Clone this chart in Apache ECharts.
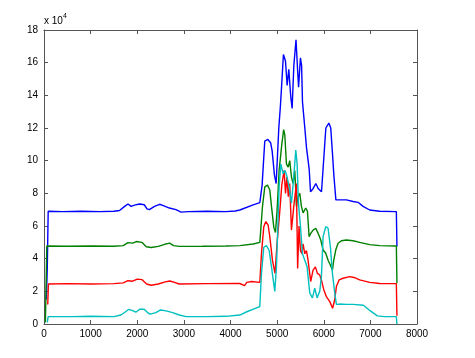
<!DOCTYPE html>
<html>
<head>
<meta charset="utf-8">
<script src="https://cdn.jsdelivr.net/npm/echarts@6/dist/echarts.min.js"></script>
<style>
html,body{margin:0;padding:0;background:#fff;}
#chart{width:475px;height:358px;}
</style>
</head>
<body>
<div id="chart"></div>
<script>
// x ticks and y ticks (values in units of 10^4)
const xTicks = [0,1000,2000,3000,4000,5000,6000,7000,8000];
const yTicks = [0,2,4,6,8,10,12,14,16,18];
const seriesNames = ['blue','green','red','cyan'];
const seriesColors = ['#0000ff','#008000','#ff0000','#00bfbf'];

const blueData = [
[50,1.5],[70,3.4],[90,6.9],[400,6.88],[800,6.9],[1200,6.88],[1500,6.9],[1620,6.95],[1730,7.2],[1800,7.35],[1870,7.2],[1940,7.28],[2050,7.35],[2150,7.3],[2210,7.05],[2260,7.0],[2370,7.2],[2480,7.33],[2560,7.25],[2690,7.1],[2830,7.0],[2940,6.85],[3100,6.88],[3500,6.9],[3900,6.88],[4100,6.92],[4200,6.98],[4486,7.29],[4629,7.43],[4678,8.5],[4735,11.2],[4800,11.3],[4860,11.1],[4893,10.6],[4943,9.1],[4979,8.6],[5036,12.0],[5072,13.4],[5107,15.1],[5135,16.5],[5179,16.1],[5215,14.6],[5250,15.6],[5293,13.9],[5322,13.2],[5358,15.8],[5405,17.4],[5440,15.5],[5460,14.5],[5500,16.3],[5525,15.8],[5544,13.6],[5594,12.0],[5630,10.8],[5687,9.5],[5716,8.1],[5773,8.3],[5830,8.6],[5880,8.3],[5952,8.1],[5988,9.6],[6045,12.0],[6110,12.3],[6150,12.0],[6188,10.4],[6217,9.1],[6260,7.6],[6343,7.6],[6486,7.6],[6629,7.5],[6736,7.45],[6843,7.2],[6986,6.98],[7200,6.9],[7557,6.88],[7570,4.75]
];

const greenData = [
[30,0.1],[60,4.78],[500,4.76],[1000,4.78],[1500,4.76],[1700,4.8],[1800,4.98],[1900,4.95],[1980,5.05],[2100,5.0],[2193,4.73],[2300,4.68],[2450,4.75],[2590,4.88],[2693,4.95],[2780,4.8],[2900,4.75],[3400,4.76],[3900,4.78],[4200,4.8],[4486,4.9],[4629,5.0],[4686,7.2],[4736,8.4],[4793,8.5],[4843,8.2],[4879,7.2],[4930,5.9],[4965,5.6],[5000,7.0],[5043,9.4],[5100,11.0],[5140,11.9],[5164,11.6],[5200,9.8],[5236,9.6],[5271,10.0],[5307,9.0],[5343,8.6],[5379,9.4],[5414,7.2],[5450,7.8],[5486,8.0],[5521,7.2],[5557,6.8],[5614,7.1],[5650,6.9],[5686,5.35],[5721,5.55],[5771,5.75],[5829,5.86],[5879,5.55],[5936,5.14],[5986,4.53],[6043,4.33],[6093,3.9],[6143,3.6],[6186,3.3],[6214,3.9],[6257,4.53],[6307,4.94],[6379,5.1],[6486,5.14],[6629,5.1],[6771,5.0],[6986,4.86],[7200,4.8],[7557,4.78],[7570,2.5]
];

const redData = [
[80,1.2],[95,2.45],[500,2.47],[1000,2.45],[1500,2.47],[1700,2.52],[1800,2.65],[1900,2.62],[2000,2.75],[2100,2.72],[2200,2.45],[2300,2.37],[2450,2.45],[2600,2.58],[2700,2.63],[2800,2.55],[2900,2.45],[3500,2.47],[4200,2.48],[4300,2.35],[4350,2.55],[4450,2.6],[4629,2.55],[4664,4.3],[4714,5.96],[4757,6.27],[4807,6.06],[4843,5.35],[4900,3.9],[4955,3.1],[5000,5.0],[5060,7.0],[5100,8.5],[5150,9.4],[5180,8.0],[5210,9.0],[5240,7.8],[5270,8.6],[5307,5.75],[5357,7.2],[5414,8.6],[5440,3.4],[5470,6.0],[5500,4.5],[5530,4.3],[5557,4.9],[5593,4.3],[5629,4.5],[5664,3.9],[5720,2.6],[5771,3.3],[5821,3.5],[5864,3.1],[5914,3.0],[5950,2.7],[6000,2.1],[6057,1.67],[6129,1.37],[6190,0.96],[6236,1.5],[6271,2.29],[6329,2.7],[6414,2.8],[6557,2.9],[6650,2.85],[6771,2.7],[6986,2.55],[7200,2.48],[7557,2.47],[7570,0.5]
];

const cyanData = [
[70,0.1],[90,0.45],[600,0.45],[1000,0.47],[1500,0.45],[1650,0.55],[1750,0.75],[1820,0.9],[1900,0.82],[1970,0.72],[2050,0.9],[2150,0.9],[2220,0.7],[2280,0.6],[2400,0.7],[2500,0.86],[2620,0.8],[2760,0.7],[2900,0.55],[3050,0.45],[3500,0.45],[3900,0.47],[4200,0.55],[4350,0.75],[4480,0.9],[4628,1.06],[4664,3.1],[4714,4.7],[4771,4.8],[4829,4.5],[4879,3.5],[4950,2.0],[4986,3.5],[5020,6.4],[5043,8.4],[5079,9.8],[5129,9.2],[5171,9.4],[5214,9.0],[5257,8.4],[5307,7.4],[5357,9.0],[5400,10.65],[5429,9.8],[5457,7.4],[5500,6.0],[5543,4.3],[5593,3.9],[5643,3.5],[5700,1.9],[5757,1.6],[5807,2.2],[5857,1.6],[5914,2.0],[5950,2.9],[5986,5.35],[6043,5.96],[6093,5.86],[6143,4.7],[6186,3.1],[6236,1.9],[6271,1.2],[6343,1.22],[6486,1.2],[6629,1.2],[6850,1.15],[7000,0.8],[7150,0.5],[7300,0.45],[7557,0.45],[7570,0]
];

const allData = [blueData, greenData, redData, cyanData];

const chart = echarts.init(document.getElementById('chart'), null, {renderer:'canvas'});
const axisColor = '#555';
const labelStyle = {fontSize:10, color:'#000', fontFamily:'Liberation Sans, Arial, sans-serif'};

function xAx(pos, showLabel){
  return {
    type:'value', position:pos, min:xTicks[0], max:xTicks[xTicks.length-1], interval:1000,
    axisLine:{show:true, onZero:false, lineStyle:{color:axisColor, width:1}},
    axisTick:{show:true, inside:true, length:4, lineStyle:{color:axisColor}},
    axisLabel:Object.assign({show:showLabel, margin:5, formatter:v=>String(v)}, labelStyle),
    splitLine:{show:false}
  };
}
function yAx(pos, showLabel){
  return {
    type:'value', position:pos, min:yTicks[0], max:yTicks[yTicks.length-1], interval:2,
    axisLine:{show:true, onZero:false, lineStyle:{color:axisColor, width:1}},
    axisTick:{show:true, inside:true, length:4, lineStyle:{color:axisColor}},
    axisLabel:Object.assign({show:showLabel, margin:6, formatter:v=>String(v)}, labelStyle),
    splitLine:{show:false}
  };
}

chart.setOption({
  animation:false,
  backgroundColor:'#fff',
  grid:{left:44, right:58, top:30, bottom:34, containLabel:false},
  xAxis:[xAx('bottom', true), xAx('top', false)],
  yAxis:[yAx('left', true), yAx('right', false)],
  graphic:[
    {type:'text', left:44, top:16, style:{text:'x 10', fontSize:10, fill:'#000', fontFamily:'Liberation Sans, Arial, sans-serif'}},
    {type:'text', left:63, top:13, style:{text:'4', fontSize:7, fill:'#000', fontFamily:'Liberation Sans, Arial, sans-serif'}}
  ],
  series: allData.map((d,i)=>({
    name:seriesNames[i], type:'line', xAxisIndex:0, yAxisIndex:0,
    data:d, showSymbol:false, symbol:'none',
    lineStyle:{color:seriesColors[i], width:1.4},
    itemStyle:{color:seriesColors[i]}
  }))
});
</script>
</body>
</html>
